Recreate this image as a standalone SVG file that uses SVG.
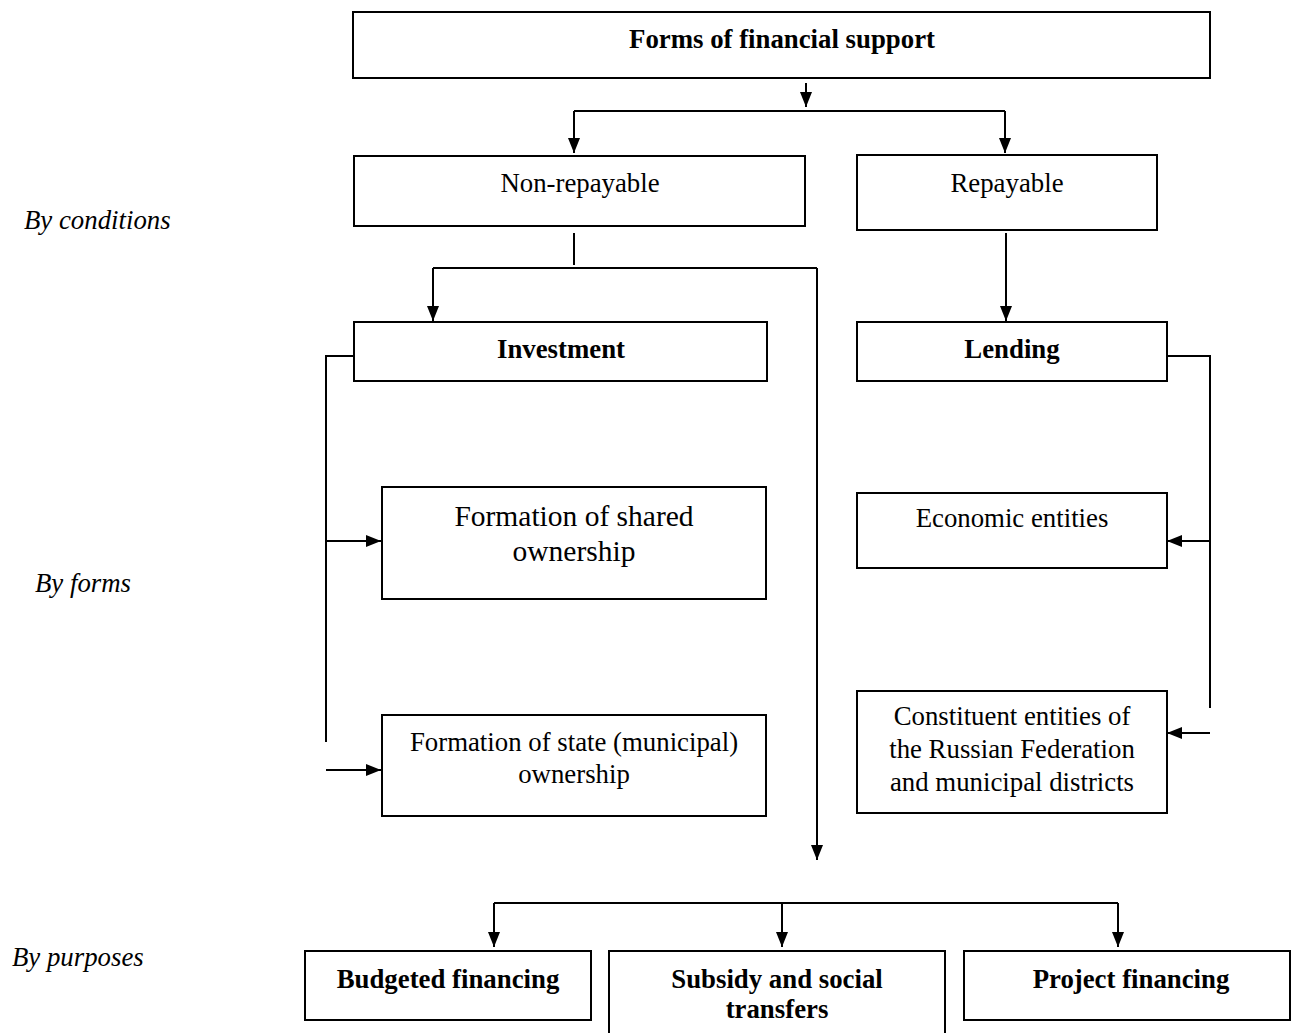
<svg xmlns="http://www.w3.org/2000/svg" width="1301" height="1033" viewBox="0 0 1301 1033">
<style>
.box{fill:#fff;stroke:#000;stroke-width:2}
.t{font-family:"Liberation Serif","Times New Roman",serif;font-size:26.8px;fill:#000;text-anchor:middle}
.b{font-weight:bold}
.big{font-size:29.5px}
.lab{font-family:"Liberation Serif","Times New Roman",serif;font-size:26.8px;font-style:italic;fill:#000}
.c{fill:none;stroke:#000;stroke-width:2}
</style>
<defs>
<marker id="ah" viewBox="0 0 15 12" refX="15" refY="6" markerWidth="15" markerHeight="12" markerUnits="userSpaceOnUse" orient="auto">
<path d="M0,0 L15,6 L0,12 Z" fill="#000"/>
</marker>
</defs>
<rect width="1301" height="1033" fill="#fff"/>
<g id="labels">
<text class="lab" x="24" y="229">By conditions</text>
<text class="lab" x="35" y="592">By forms</text>
<text class="lab" x="12" y="966">By purposes</text>
</g>
<g id="connectors">
<line class="c" x1="806" y1="83" x2="806" y2="107" marker-end="url(#ah)"/>
<path class="c" d="M574,111 H1005"/>
<line class="c" x1="574" y1="111" x2="574" y2="153" marker-end="url(#ah)"/>
<line class="c" x1="1005" y1="111" x2="1005" y2="153" marker-end="url(#ah)"/>
<line class="c" x1="574" y1="233" x2="574" y2="265"/>
<path class="c" d="M433,268 H817"/>
<line class="c" x1="433" y1="268" x2="433" y2="321" marker-end="url(#ah)"/>
<line class="c" x1="817" y1="268" x2="817" y2="860" marker-end="url(#ah)"/>
<line class="c" x1="1006" y1="233" x2="1006" y2="321" marker-end="url(#ah)"/>
<path class="c" d="M354,356 H326 V742"/>
<line class="c" x1="326" y1="541" x2="381" y2="541" marker-end="url(#ah)"/>
<line class="c" x1="326" y1="770" x2="381" y2="770" marker-end="url(#ah)"/>
<path class="c" d="M1167,356 H1210 V708"/>
<line class="c" x1="1210" y1="541" x2="1167" y2="541" marker-end="url(#ah)"/>
<line class="c" x1="1210" y1="733" x2="1167" y2="733" marker-end="url(#ah)"/>
<path class="c" d="M494,903 H1118"/>
<line class="c" x1="494" y1="903" x2="494" y2="947" marker-end="url(#ah)"/>
<line class="c" x1="782" y1="903" x2="782" y2="947" marker-end="url(#ah)"/>
<line class="c" x1="1118" y1="903" x2="1118" y2="947" marker-end="url(#ah)"/>
</g>
<g id="n-forms">
<rect class="box" x="353" y="12" width="857" height="66"/>
<text class="t b" x="782" y="48">Forms of financial support</text>
</g>
<g id="n-nonrepayable">
<rect class="box" x="354" y="156" width="451" height="70"/>
<text class="t" x="580" y="192">Non-repayable</text>
</g>
<g id="n-repayable">
<rect class="box" x="857" y="155" width="300" height="75"/>
<text class="t" x="1007" y="192">Repayable</text>
</g>
<g id="n-investment">
<rect class="box" x="354" y="322" width="413" height="59"/>
<text class="t b" x="561" y="358">Investment</text>
</g>
<g id="n-lending">
<rect class="box" x="857" y="322" width="310" height="59"/>
<text class="t b" x="1012" y="358">Lending</text>
</g>
<g id="n-shared">
<rect class="box" x="382" y="487" width="384" height="112"/>
<text class="t big" x="574" y="526">Formation of shared</text>
<text class="t big" x="574" y="561">ownership</text>
</g>
<g id="n-state">
<rect class="box" x="382" y="715" width="384" height="101"/>
<text class="t" x="574" y="751">Formation of state (municipal)</text>
<text class="t" x="574" y="783">ownership</text>
</g>
<g id="n-economic">
<rect class="box" x="857" y="493" width="310" height="75"/>
<text class="t" x="1012" y="527">Economic entities</text>
</g>
<g id="n-constituent">
<rect class="box" x="857" y="691" width="310" height="122"/>
<text class="t" x="1012" y="725">Constituent entities of</text>
<text class="t" x="1012" y="758">the Russian Federation</text>
<text class="t" x="1012" y="791">and municipal districts</text>
</g>
<g id="n-budgeted">
<rect class="box" x="305" y="951" width="286" height="69"/>
<text class="t b" x="448" y="988">Budgeted financing</text>
</g>
<g id="n-subsidy">
<rect class="box" x="609" y="951" width="336" height="90"/>
<text class="t b" x="777" y="988">Subsidy and social</text>
<text class="t b" x="777" y="1018">transfers</text>
</g>
<g id="n-project">
<rect class="box" x="964" y="951" width="326" height="69"/>
<text class="t b" x="1131" y="988">Project financing</text>
</g>
</svg>
